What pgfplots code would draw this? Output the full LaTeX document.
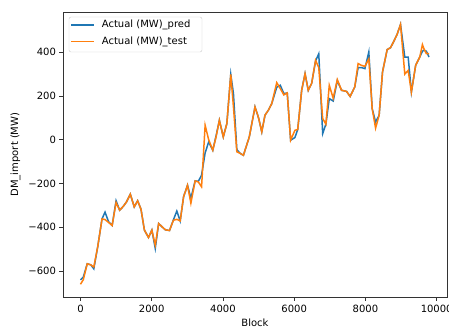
\documentclass[border=0pt]{standalone}
\usepackage{pgfplots}
\usepackage{pgfplotstable}
\usepackage{fontspec}
\setmainfont{DejaVu Sans}
\pgfplotsset{compat=1.18}
\definecolor{mplblue}{HTML}{1F77B4}
\definecolor{mplorange}{HTML}{FF7F0E}
\pgfplotstableread{
x pred test
0 -641 -661
80 -628 -640
190 -567 -567
290 -572 -572
375 -590 -582
485 -489 -489
605 -362 -362
690 -331 -365
790 -375 -378
890 -392 -392
1000 -279 -287
1100 -322 -322
1200 -305 -305
1290 -285 -285
1400 -249 -249
1510 -307 -307
1605 -279 -279
1700 -318 -318
1795 -413 -413
1910 -447 -447
2005 -413 -413
2100 -497 -482
2195 -383 -383
2290 -398 -398
2385 -412 -412
2500 -415 -415
2610 -366 -368
2705 -326 -364
2800 -371 -371
2895 -261 -261
3005 -208 -208
3100 -267 -290
3220 -188 -188
3310 -190 -193
3400 -162 -215
3500 -60 66
3600 -10 0
3715 -48 -48
3810 20 15
3900 89 89
4010 13 13
4110 74 74
4220 299 299
4295 211 150
4390 -45 -55
4480 -62 -62
4575 -71 -71
4740 13 13
4900 150 150
5000 100 100
5090 36 36
5180 112 112
5275 135 135
5370 165 165
5510 240 261
5610 249 234
5710 211 205
5805 214 214
5900 -2 -2
6020 10 43
6100 47 47
6210 226 226
6305 302 302
6395 226 226
6490 257 257
6600 360 363
6690 393 330
6800 28 97
6890 71 71
6985 188 249
7095 177 190
7210 270 275
7330 226 226
7470 221 221
7570 198 198
7700 241 241
7795 330 348
7890 330 340
7985 325 335
8095 401 370
8190 142 142
8285 81 53
8385 112 112
8480 310 310
8610 412 412
8705 421 421
8800 451 451
8890 482 482
8985 527 527
9105 378 300
9200 378 317
9290 218 218
9410 340 340
9525 378 378
9600 405 435
9645 409 415
9710 405 394
9785 378 394
}\datatable
\begin{document}
\begin{tikzpicture}[font=\fontsize{10}{12}\selectfont]
\begin{axis}[
  at={(0,0)}, anchor=south west,
  scale only axis, width=384pt, height=285pt,
  xmin=-490, xmax=10290, ymin=-719, ymax=584,
  scaled x ticks=false, scaled y ticks=false,
  axis line style={black!80},
  tick align=outside, major tick length=3.5pt,
  tick style={black!80, line width=0.6pt},
  xtick={0,2000,4000,6000,8000,10000},
  xticklabels={0,2000,4000,6000,8000,10000},
  ytick={-600,-400,-200,0,200,400},
  yticklabels={−600,−400,−200,0,200,400},
  xtick pos=bottom, ytick pos=left,
  xticklabel style={yshift=-1pt},
  xlabel={Block}, ylabel={DM\_import (MW)},
  every axis x label/.style={at={(rel axis cs:0.5,0)}, anchor=center, yshift=-26pt},
  every axis y label/.style={at={(rel axis cs:0,0.5)}, anchor=center, xshift=-47.5pt, rotate=90},
]
\addplot[mplblue, line width=1.5pt] table[x=x, y=pred] {\datatable};
\addplot[mplorange, line width=1.5pt] table[x=x, y=test] {\datatable};
\end{axis}
% legend
\draw[black!20, fill=white, rounded corners=2pt] (6pt,280pt) rectangle (139pt,245pt);
\fill[mplblue] (7.7pt,271.25pt) rectangle (31.3pt,272.75pt);
\node[anchor=west, inner sep=0pt] at (38.7pt,272pt) {Actual (MW)\_pred};
\fill[mplorange] (7.7pt,254.75pt) rectangle (31.3pt,256.25pt);
\node[anchor=west, inner sep=0pt] at (38.7pt,255.5pt) {Actual (MW)\_test};
\pgfresetboundingbox
\path (-63pt,-32pt) rectangle (386pt,297pt);
\end{tikzpicture}
\end{document}
